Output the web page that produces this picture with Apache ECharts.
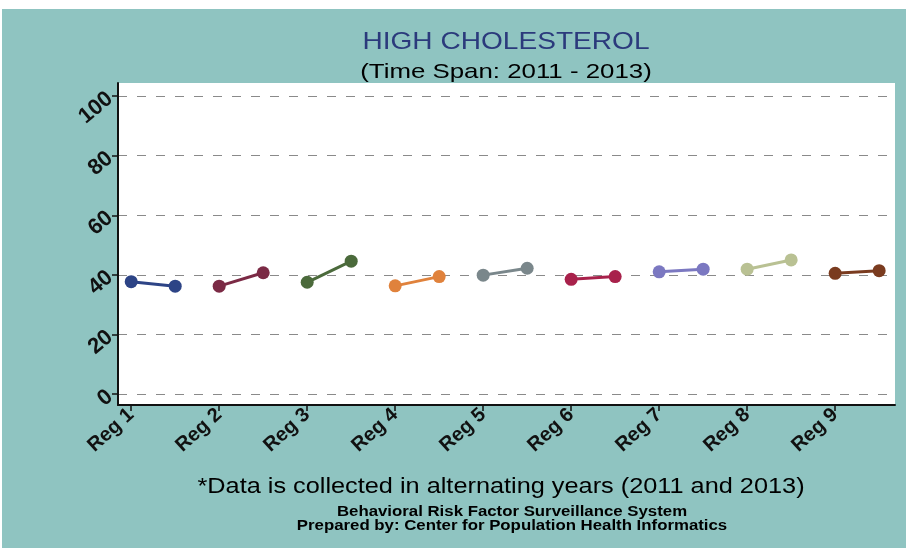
<!DOCTYPE html>
<html>
<head>
<meta charset="utf-8">
<script src="https://cdn.jsdelivr.net/npm/echarts@6/dist/echarts.min.js"></script>
<style>
html,body{margin:0;padding:0;background:#ffffff;}
#chart{width:906px;height:548px;}
</style>
</head>
<body>
<div id="chart"></div>
<script>
// Data
var regions = ['Reg 1','Reg 2','Reg 3','Reg 4','Reg 5','Reg 6','Reg 7','Reg 8','Reg 9'];
var values2011 = [37.7, 36.2, 37.5, 36.3, 39.9, 38.5, 41.0, 41.9, 40.5];
var values2013 = [36.2, 40.7, 44.6, 39.4, 42.2, 39.4, 41.9, 45.0, 41.4];
var colors = ['#2d4486','#7b2a45','#4b6a3b','#e0823c','#7a878b','#a8214b','#7b78c1','#b9c193','#7a3b1f'];
var yTicks = [0, 20, 40, 60, 80, 100];
var xTicks = [1, 2, 3, 4, 5, 6, 7, 8, 9];
var titleText = 'HIGH CHOLESTEROL';
var subtitleText = '(Time Span: 2011 - 2013)';
var noteText = '*Data is collected in alternating years (2011 and 2013)';
var sourceText = 'Behavioral Risk Factor Surveillance System';
var preparedText = 'Prepared by: Center for Population Health Informatics';

var series = regions.map(function (name, i) {
  return {
    name: name,
    type: 'line',
    data: [[i + 1, values2011[i]], [i + 1.5, values2013[i]]],
    symbol: 'circle',
    symbolSize: 13,
    lineStyle: { width: 3, color: colors[i] },
    itemStyle: { color: colors[i] },
    z: 5
  };
});

function txt(text, x, y, size, weight, color, sx) {
  return {
    type: 'text', x: x, y: y, scaleX: sx, scaleY: 1, z: 10,
    style: {
      text: text, fontFamily: 'Liberation Sans', fontSize: size, fontWeight: weight,
      fill: color, align: 'center', verticalAlign: 'middle'
    }
  };
}

var chart = echarts.init(document.getElementById('chart'));
chart.setOption({
  animation: false,
  backgroundColor: '#ffffff',
  graphic: [{
    type: 'rect',
    shape: { x: 2, y: 9, width: 904, height: 539 },
    style: { fill: '#8fc4c1' },
    z: -10
  },
    txt(titleText, 506, 42, 24, 'normal', '#2b3a7c', 1.17),
    txt(subtitleText, 506, 72, 21, 'normal', '#000', 1.23),
    txt(noteText, 501, 487, 22, 'normal', '#000', 1.15),
    txt(sourceText, 512, 512, 14, 'bold', '#000', 1.2),
    txt(preparedText, 512, 526, 14, 'bold', '#000', 1.2)
  ],
  grid: {
    left: 118, right: 11, top: 83, bottom: 143,
    show: true, backgroundColor: '#ffffff', borderWidth: 0,
    containLabel: false
  },
  xAxis: {
    type: 'value',
    min: 0.85, max: 9.68,
    axisLine: { show: true, onZero: false, lineStyle: { color: '#111', width: 2 } },
    axisTick: { show: true, length: 6, customValues: xTicks, lineStyle: { color: '#111', width: 1.5 } },
    axisLabel: {
      show: true, customValues: xTicks, rotate: 42, margin: 7,
      fontFamily: 'Liberation Sans', fontSize: 20, fontWeight: 'bold', color: '#111',
      formatter: function (v) { return regions[Math.round(v) - 1] || ''; }
    },
    splitLine: { show: false }
  },
  yAxis: {
    type: 'value',
    min: -3.7, max: 104.4,
    axisLine: { show: true, onZero: false, lineStyle: { color: '#111', width: 2 } },
    axisTick: { show: true, length: 6, customValues: yTicks, lineStyle: { color: '#111', width: 1.5 } },
    axisLabel: {
      show: true, customValues: yTicks, rotate: 40, margin: 8,
      fontFamily: 'Liberation Sans', fontSize: 22, fontWeight: 'bold', color: '#111'
    },
    splitLine: { show: true, lineStyle: { color: '#8a8a8a', type: [9, 10], width: 1 } }
  },
  series: series
});
</script>
</body>
</html>
